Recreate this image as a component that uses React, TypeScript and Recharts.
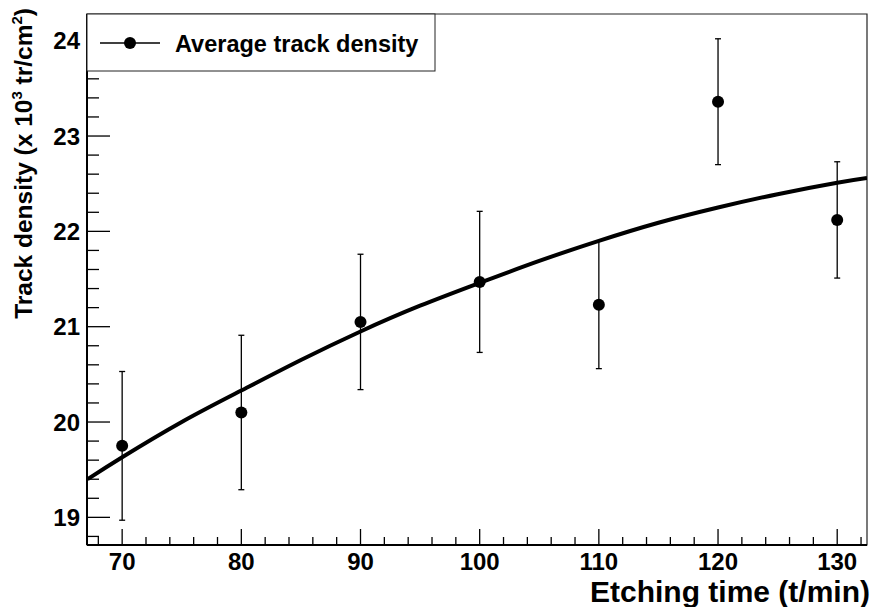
import { ComposedChart, Scatter, Line, XAxis, YAxis, ErrorBar, ReferenceArea } from 'recharts'

const FONT = '"Liberation Sans", Arial, Helvetica, sans-serif'

// measured points: etching time (min), track density (x 10^3 tr/cm^2), error
const times = [70, 80, 90, 100, 110, 120, 130]
const density = [19.75, 20.1, 21.05, 21.47, 21.23, 23.36, 22.12]
const errors = [0.78, 0.81, 0.71, 0.74, 0.67, 0.66, 0.61]

// fitted curve
const fitTimes = [67.1, 70, 75, 80, 85, 90, 95, 100, 105, 110, 115, 120, 125, 130, 132.5]
const fitDensity = [19.4, 19.63, 20.0, 20.33, 20.65, 20.95, 21.22, 21.46, 21.69, 21.9, 22.09, 22.25, 22.39, 22.51, 22.56]

const xTicks = [68, 70, 72, 74, 76, 78, 80, 82, 84, 86, 88, 90, 92, 94, 96, 98, 100, 102, 104, 106, 108, 110, 112, 114, 116, 118, 120, 122, 124, 126, 128, 130, 132]
const yTicks = [18.8, 19, 19.2, 19.4, 19.6, 19.8, 20, 20.2, 20.4, 20.6, 20.8, 21, 21.2, 21.4, 21.6, 21.8, 22, 22.2, 22.4, 22.6, 22.8, 23, 23.2, 23.4, 23.6, 23.8, 24, 24.2]

const X_DOMAIN: [number, number] = [67.05, 132.5]
const Y_DOMAIN: [number, number] = [18.71, 24.28]

const points = times.map((t, i) => ({ x: t, y: density[i], err: errors[i] }))
const fit = fitTimes.map((t, i) => ({ x: t, y: fitDensity[i] }))

const isWhole = (v: number) => Math.abs(v - Math.round(v)) < 1e-6

function XTick(props: any) {
  const { x, y, payload } = props
  const v = payload.value
  const major = isWhole(v / 10)
  return (
    <g>
      <line x1={x} x2={x} y1={y} y2={y - (major ? 16 : 8)} stroke="#000" strokeWidth={1.3} />
      {major && (
        <text x={x} y={y + 25} textAnchor="middle" fontFamily={FONT} fontWeight="bold" fontSize={24} fill="#000">
          {v}
        </text>
      )}
    </g>
  )
}

function YTick(props: any) {
  const { x, y, payload } = props
  const v = payload.value
  const major = isWhole(v)
  return (
    <g>
      <line x1={x} x2={x + (major ? 23 : 12)} y1={y} y2={y} stroke="#000" strokeWidth={1.3} />
      {major && (
        <text x={x - 7} y={y + 8.5} textAnchor="end" fontFamily={FONT} fontWeight="bold" fontSize={24} fill="#000">
          {Math.round(v)}
        </text>
      )}
    </g>
  )
}

function XTitle() {
  return (
    <text x={870} y={602} textAnchor="end" fontFamily={FONT} fontWeight="bold" fontSize={30} fill="#000">
      Etching time (t/min)
    </text>
  )
}

function YTitle() {
  return (
    <text
      transform="translate(32, 8) rotate(-90)"
      textAnchor="end"
      fontFamily={FONT}
      fontWeight="bold"
      fontSize={24.5}
      fill="#000"
    >
      Track density (x 10
      <tspan fontSize={15} dy={-10}>3</tspan>
      <tspan dy={10}> tr/cm</tspan>
      <tspan fontSize={15} dy={-10}>2</tspan>
      <tspan dy={10}>)</tspan>
    </text>
  )
}

function LegendBox() {
  return (
    <svg width={350} height={60} style={{ position: 'absolute', left: 86, top: 13 }}>
      <rect x={1} y={1} width={348} height={57} fill="#fff" stroke="#222" strokeWidth={1} />
      <line x1={14} x2={74} y1={30} y2={30} stroke="#000" strokeWidth={1.3} />
      <circle cx={44} cy={30} r={6} fill="#000" />
      <text x={89} y={38.5} fontFamily={FONT} fontWeight="bold" fontSize={23.5} fill="#000">
        Average track density
      </text>
    </svg>
  )
}

export default function App() {
  return (
    <div style={{ position: 'absolute', left: 0, top: 0, width: 874, height: 607, background: '#fff', fontFamily: FONT }}>
      <ComposedChart width={874} height={607} margin={{ top: 14, right: 7, left: 0, bottom: 0 }}>
        <ReferenceArea
          x1={X_DOMAIN[0]}
          x2={X_DOMAIN[1]}
          y1={Y_DOMAIN[0]}
          y2={Y_DOMAIN[1]}
          fill="none"
          stroke="#222"
          strokeWidth={1.2}
          ifOverflow="visible"
        />
        <XAxis
          type="number"
          dataKey="x"
          domain={X_DOMAIN}
          allowDataOverflow
          ticks={xTicks}
          interval={0}
          height={62}
          tickSize={0}
          tickMargin={0}
          tickLine={false}
          axisLine={{ stroke: '#000', strokeWidth: 2 }}
          tick={<XTick />}
          label={<XTitle />}
        />
        <YAxis
          type="number"
          dataKey="y"
          domain={Y_DOMAIN}
          allowDataOverflow
          ticks={yTicks}
          interval={0}
          width={87}
          tickSize={0}
          tickMargin={0}
          tickLine={false}
          axisLine={{ stroke: '#000', strokeWidth: 2 }}
          tick={<YTick />}
          label={<YTitle />}
        />
        <Line
          data={fit}
          dataKey="y"
          type="natural"
          stroke="#000"
          strokeWidth={4}
          dot={false}
          activeDot={false}
          isAnimationActive={false}
        />
        <Scatter
          data={points}
          dataKey="y"
          fill="#000"
          isAnimationActive={false}
          shape={(p: any) => <circle cx={p.cx} cy={p.cy} r={6} fill="#000" />}
        >
          <ErrorBar dataKey="err" direction="y" width={3} stroke="#000" strokeWidth={1.3} />
        </Scatter>
      </ComposedChart>
      <LegendBox />
    </div>
  )
}
